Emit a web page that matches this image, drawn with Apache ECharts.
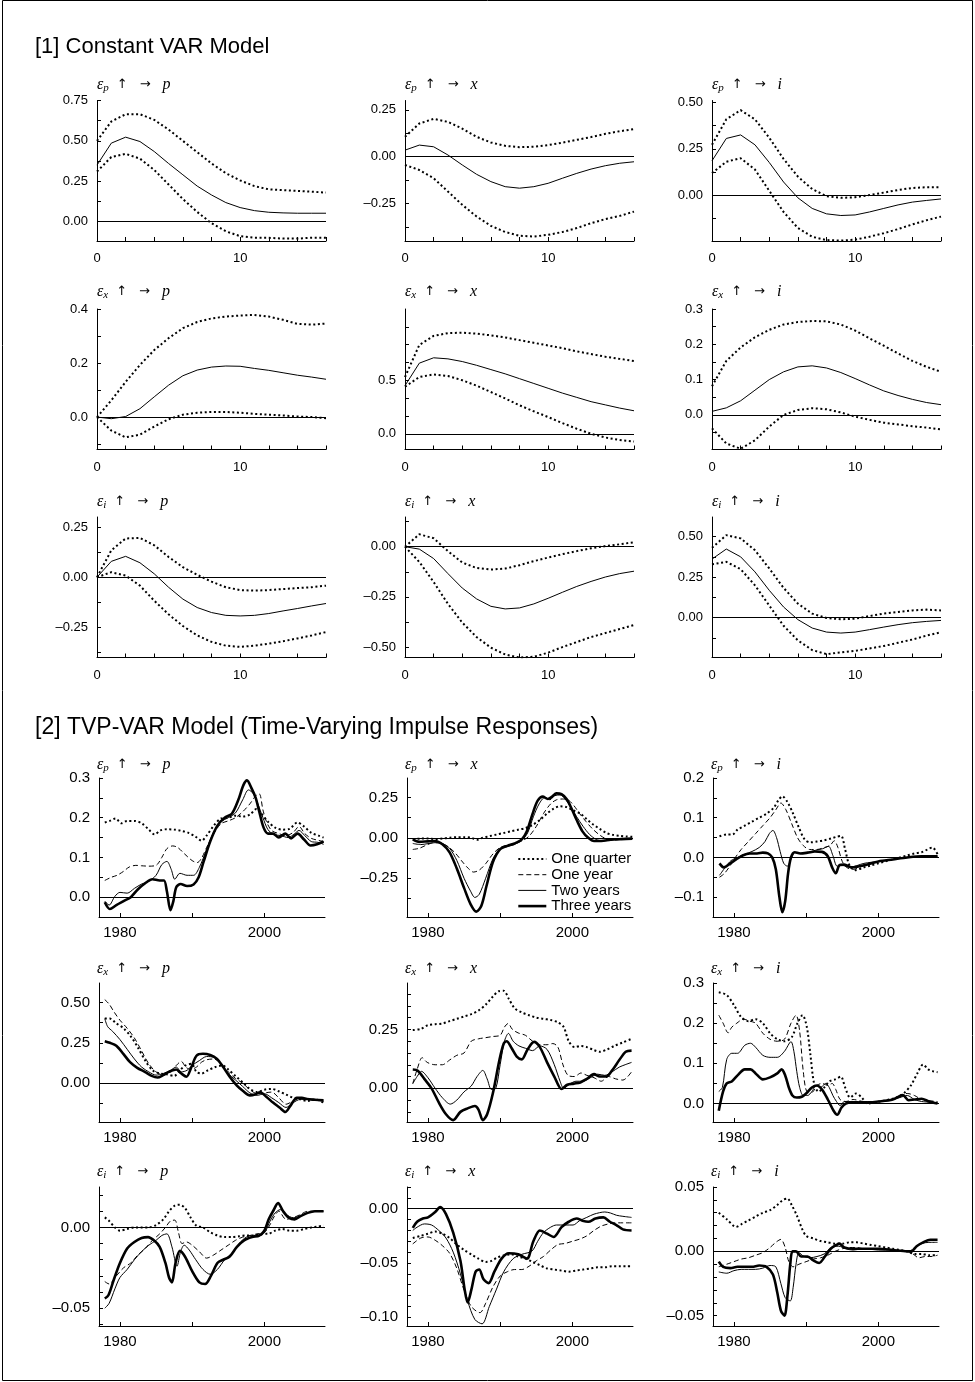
<!DOCTYPE html>
<html><head><meta charset="utf-8">
<script src="https://cdn.jsdelivr.net/npm/echarts@6/dist/echarts.min.js"></script>
<style>html,body{margin:0;padding:0;background:#fff}#chart{width:975px;height:1382px}</style>
</head><body><div id="chart"></div>
<script>
// ---------- DATA: constant VAR (horizons 0..16) ----------
const horizons = [0,1,2,3,4,5,6,7,8,9,10,11,12,13,14,15,16];
const cPP_hi  = [0.50,0.62,0.665,0.665,0.63,0.57,0.50,0.43,0.36,0.30,0.255,0.22,0.20,0.195,0.19,0.185,0.18];
const cPP_mid = [0.35,0.486,0.523,0.496,0.434,0.36,0.29,0.22,0.165,0.118,0.087,0.068,0.058,0.054,0.052,0.052,0.052];
const cPP_lo  = [0.31,0.40,0.42,0.39,0.32,0.23,0.14,0.06,-0.01,-0.06,-0.09,-0.10,-0.10,-0.105,-0.105,-0.10,-0.10];
const cPX_hi  = [0.106,0.177,0.202,0.186,0.15,0.106,0.076,0.058,0.051,0.053,0.062,0.075,0.09,0.105,0.122,0.136,0.147];
const cPX_mid = [0.035,0.062,0.053,0.009,-0.044,-0.094,-0.133,-0.16,-0.168,-0.16,-0.142,-0.115,-0.089,-0.066,-0.048,-0.035,-0.027];
const cPX_lo  = [-0.044,-0.071,-0.115,-0.186,-0.257,-0.319,-0.369,-0.402,-0.422,-0.426,-0.417,-0.402,-0.381,-0.355,-0.333,-0.316,-0.293];
const cPI_hi  = [0.272,0.409,0.458,0.409,0.31,0.196,0.101,0.034,-0.004,-0.013,-0.01,0.002,0.015,0.029,0.04,0.044,0.044];
const cPI_mid = [0.186,0.306,0.325,0.272,0.177,0.072,-0.013,-0.07,-0.099,-0.108,-0.105,-0.089,-0.07,-0.051,-0.036,-0.027,-0.019];
const cPI_lo  = [0.12,0.181,0.2,0.139,0.025,-0.089,-0.175,-0.222,-0.24,-0.243,-0.238,-0.222,-0.203,-0.181,-0.156,-0.133,-0.114];
const cXP_hi  = [0,0.062,0.13,0.193,0.248,0.292,0.329,0.352,0.365,0.372,0.376,0.378,0.372,0.36,0.345,0.342,0.346];
const cXP_mid = [0,-0.006,0.002,0.031,0.075,0.118,0.153,0.174,0.185,0.189,0.188,0.18,0.173,0.164,0.155,0.148,0.14];
const cXP_lo  = [0,-0.05,-0.075,-0.065,-0.035,-0.008,0.009,0.016,0.019,0.019,0.016,0.012,0.009,0.006,0.002,0.0,-0.004];
const cXX_hi  = [0.53,0.83,0.915,0.94,0.945,0.935,0.92,0.9,0.875,0.85,0.825,0.8,0.77,0.745,0.72,0.70,0.68];
const cXX_mid = [0.45,0.66,0.71,0.70,0.675,0.64,0.60,0.56,0.515,0.47,0.425,0.38,0.34,0.30,0.27,0.24,0.215];
const cXX_lo  = [0.44,0.53,0.555,0.54,0.50,0.45,0.39,0.33,0.266,0.21,0.156,0.10,0.047,0.0,-0.035,-0.058,-0.072];
const cXI_hi  = [0.081,0.153,0.191,0.22,0.241,0.256,0.263,0.266,0.265,0.256,0.239,0.217,0.196,0.174,0.153,0.136,0.122];
const cXI_mid = [0.010,0.020,0.040,0.070,0.100,0.122,0.136,0.139,0.133,0.120,0.103,0.085,0.068,0.055,0.044,0.035,0.029];
const cXI_lo  = [-0.038,-0.081,-0.096,-0.072,-0.033,0,0.014,0.019,0.016,0.007,-0.005,-0.014,-0.022,-0.027,-0.032,-0.036,-0.041];
const cIP_hi  = [0,0.134,0.193,0.196,0.159,0.101,0.05,0.012,-0.022,-0.05,-0.064,-0.067,-0.064,-0.059,-0.054,-0.05,-0.042];
const cIP_mid = [0,0.079,0.104,0.072,0.017,-0.05,-0.109,-0.151,-0.176,-0.19,-0.193,-0.19,-0.181,-0.168,-0.156,-0.143,-0.131];
const cIP_lo  = [0,0.025,0.008,-0.042,-0.117,-0.185,-0.243,-0.29,-0.322,-0.341,-0.347,-0.341,-0.331,-0.319,-0.305,-0.29,-0.273];
const cIX_hi  = [0,0.062,0.042,-0.022,-0.079,-0.106,-0.114,-0.109,-0.092,-0.072,-0.054,-0.037,-0.022,-0.008,0.003,0.012,0.022];
const cIX_mid = [0,-0.012,-0.059,-0.134,-0.206,-0.26,-0.297,-0.31,-0.305,-0.285,-0.257,-0.227,-0.198,-0.173,-0.151,-0.134,-0.122];
const cIX_lo  = [0,-0.076,-0.176,-0.285,-0.378,-0.45,-0.503,-0.537,-0.552,-0.548,-0.528,-0.50,-0.475,-0.45,-0.43,-0.41,-0.39];
const cII_hi  = [0.432,0.51,0.49,0.417,0.304,0.184,0.087,0.025,-0.002,-0.01,-0.006,0.01,0.025,0.035,0.045,0.05,0.045];
const cII_mid = [0.362,0.424,0.376,0.283,0.169,0.066,-0.012,-0.064,-0.089,-0.095,-0.089,-0.074,-0.058,-0.043,-0.031,-0.023,-0.017];
const cII_lo  = [0.33,0.345,0.30,0.20,0.075,-0.05,-0.14,-0.20,-0.225,-0.215,-0.205,-0.19,-0.175,-0.155,-0.135,-0.11,-0.09];

// ---------- DATA: TVP-VAR ([year, response]) ----------
const tvpNames = ['One quarter','One year','Two years','Three years'];
const tPP_q  = [[1977.9,0.188],[1978.6,0.192],[1979.4,0.198],[1980.2,0.186],[1981,0.192],[1982,0.192],[1983,0.186],[1984,0.17],[1984.8,0.158],[1985.6,0.168],[1986.5,0.171],[1987.5,0.17],[1988.5,0.167],[1989.5,0.162],[1990.5,0.152],[1991.3,0.142],[1992,0.155],[1993,0.18],[1994,0.198],[1995,0.2],[1996,0.205],[1997,0.203],[1998,0.208],[1998.9,0.222],[1999.6,0.21],[2000.5,0.19],[2001.5,0.175],[2002.5,0.17],[2003.5,0.172],[2004.6,0.188],[2005.5,0.178],[2006.5,0.162],[2007.5,0.155],[2008.2,0.15]];
const tPP_1y = [[1977.9,0.042],[1978.8,0.05],[1979.6,0.055],[1980.5,0.065],[1981.3,0.076],[1982.2,0.08],[1983,0.079],[1984,0.078],[1985,0.08],[1985.8,0.1],[1986.5,0.122],[1987.3,0.129],[1988,0.125],[1989,0.108],[1990,0.092],[1990.7,0.087],[1991.3,0.098],[1992,0.125],[1993,0.16],[1994,0.185],[1995,0.192],[1996,0.2],[1997,0.215],[1998,0.235],[1998.8,0.255],[1999.3,0.26],[1999.8,0.22],[2000.3,0.19],[2001,0.168],[2002,0.16],[2003,0.155],[2004,0.163],[2004.8,0.178],[2005.6,0.16],[2006.5,0.148],[2007.5,0.143],[2008.2,0.14]];
const tPP_2y = [[1977.9,-0.01],[1978.5,-0.02],[1979.3,0.002],[1980,0.012],[1981,0.01],[1982,0.022],[1983,0.033],[1984,0.04],[1985,0.055],[1985.8,0.082],[1986.5,0.09],[1987.1,0.07],[1987.6,0.045],[1988.3,0.06],[1989.3,0.055],[1990.2,0.055],[1991,0.075],[1992,0.12],[1993,0.165],[1994,0.19],[1995,0.2],[1996,0.212],[1997,0.245],[1997.8,0.27],[1998.5,0.26],[1999.1,0.235],[1999.8,0.2],[2000.5,0.17],[2001.3,0.158],[2002.3,0.155],[2003.3,0.15],[2004.2,0.16],[2004.8,0.168],[2005.6,0.155],[2006.5,0.14],[2007.4,0.138],[2008.2,0.133]];
const tPP_3y = [[1977.9,-0.013],[1978.6,-0.03],[1979.5,-0.02],[1980.5,-0.01],[1981.5,0.0],[1982.5,0.02],[1983.5,0.035],[1984.5,0.045],[1985.5,0.042],[1986.1,0.042],[1986.5,0.015],[1987.0,-0.033],[1987.4,-0.01],[1987.8,0.025],[1988.4,0.033],[1989.3,0.028],[1990.2,0.032],[1990.9,0.05],[1991.6,0.09],[1992.5,0.14],[1993.5,0.18],[1994.5,0.2],[1995.5,0.21],[1996.4,0.245],[1997.1,0.282],[1997.6,0.294],[1998.2,0.275],[1998.8,0.25],[1999.3,0.215],[1999.9,0.175],[2000.5,0.16],[2001.2,0.16],[2002,0.15],[2002.9,0.16],[2003.7,0.148],[2004.6,0.16],[2005.5,0.145],[2006.4,0.13],[2007.3,0.133],[2008.2,0.14]];

const tPX_q  = [[1977.9,-0.01],[1979,-0.005],[1980,-0.005],[1981,-0.008],[1982,-0.005],[1983,0.0],[1984,0.004],[1985,0.004],[1986,0.0],[1986.8,-0.012],[1987.6,0.0],[1988.5,0.01],[1989.5,0.02],[1990.5,0.03],[1991.5,0.04],[1992.5,0.05],[1993.5,0.06],[1994.5,0.08],[1995.5,0.11],[1996.5,0.15],[1997.4,0.18],[1998.3,0.195],[1999.2,0.19],[2000.1,0.17],[2001.1,0.15],[2002,0.115],[2002.9,0.082],[2003.8,0.055],[2004.7,0.03],[2005.6,0.018],[2006.6,0.012],[2007.5,0.008],[2008.3,0.006]];
const tPX_1y = [[1977.9,-0.072],[1978.8,-0.065],[1979.8,-0.045],[1980.8,-0.03],[1981.8,-0.035],[1982.8,-0.055],[1983.8,-0.095],[1984.8,-0.15],[1985.6,-0.19],[1986.3,-0.212],[1987.1,-0.2],[1988,-0.16],[1989,-0.1],[1990,-0.06],[1991,-0.045],[1992,-0.035],[1993,-0.02],[1994,0.01],[1995,0.07],[1996,0.15],[1997,0.21],[1997.8,0.235],[1998.6,0.24],[1999.4,0.235],[2000.2,0.2],[2001,0.15],[2001.9,0.1],[2002.8,0.055],[2003.7,0.02],[2004.6,-0.005],[2005.5,-0.015],[2006.8,-0.01],[2008.3,-0.006]];
const tPX_2y = [[1977.9,-0.035],[1979,-0.042],[1980,-0.036],[1981,-0.03],[1982,-0.035],[1983,-0.065],[1984,-0.14],[1985,-0.25],[1985.9,-0.33],[1986.5,-0.369],[1987.1,-0.35],[1988,-0.25],[1989,-0.13],[1990,-0.07],[1991,-0.055],[1992,-0.04],[1993,-0.015],[1993.8,0.03],[1994.6,0.13],[1995.4,0.21],[1996.2,0.25],[1996.9,0.235],[1997.5,0.26],[1998.3,0.265],[1999,0.24],[1999.8,0.19],[2000.6,0.13],[2001.5,0.07],[2002.4,0.02],[2003.3,-0.01],[2004.2,-0.02],[2005.5,-0.012],[2006.8,-0.008],[2008.3,-0.005]];
const tPX_3y = [[1977.9,-0.01],[1978.8,-0.025],[1980,-0.022],[1981,-0.02],[1982,-0.04],[1983,-0.09],[1984,-0.19],[1985,-0.31],[1985.9,-0.41],[1986.7,-0.457],[1987.4,-0.42],[1988.1,-0.3],[1989,-0.15],[1990,-0.07],[1991,-0.05],[1992,-0.035],[1993,-0.01],[1993.7,0.04],[1994.5,0.15],[1995.2,0.23],[1995.9,0.255],[1996.6,0.24],[1997.2,0.255],[1997.8,0.275],[1998.5,0.27],[1999.2,0.24],[1999.9,0.18],[2000.6,0.11],[2001.4,0.04],[2002.2,0.0],[2003,-0.02],[2004,-0.02],[2005.3,-0.012],[2006.8,-0.008],[2008.3,-0.005]];

const tPI_q  = [[1978,0.053],[1979,0.058],[1979.8,0.058],[1980.5,0.07],[1981.5,0.08],[1982.5,0.09],[1983.5,0.1],[1984.5,0.11],[1985.5,0.125],[1986.2,0.145],[1986.7,0.154],[1987.4,0.14],[1988.2,0.11],[1989,0.075],[1989.8,0.045],[1990.6,0.038],[1991.5,0.04],[1992.5,0.043],[1993.5,0.048],[1994.2,0.052],[1994.85,0.054],[1995.4,0.02],[1996,-0.02],[1996.8,-0.032],[1998,-0.025],[1999,-0.02],[2000,-0.015],[2001,-0.01],[2002,-0.005],[2003,0.0],[2004,0.005],[2005,0.01],[2006,0.013],[2006.8,0.02],[2007.5,0.025],[2008.2,0.008]];
const tPI_1y = [[1978,-0.05],[1978.7,-0.04],[1979.5,-0.02],[1980.2,0.0],[1981,0.02],[1982,0.04],[1983,0.06],[1984,0.08],[1985,0.1],[1985.8,0.12],[1986.5,0.137],[1987.2,0.12],[1988,0.085],[1988.8,0.05],[1989.6,0.03],[1990.5,0.02],[1991.5,0.02],[1992.5,0.025],[1993.3,0.03],[1993.9,0.042],[1994.4,0.025],[1995,-0.01],[1995.6,-0.025],[1996.5,-0.03],[1998,-0.02],[2000,-0.01],[2002,-0.005],[2004,0.0],[2006,0.003],[2008.2,0.003]];
const tPI_2y = [[1978,-0.045],[1978.8,-0.025],[1979.6,-0.008],[1980.5,0.0],[1981.5,0.008],[1982.5,0.015],[1983.5,0.025],[1984.3,0.04],[1984.9,0.06],[1985.4,0.068],[1985.9,0.05],[1986.4,0.015],[1986.9,-0.015],[1987.4,-0.022],[1987.9,-0.005],[1988.5,0.013],[1989.3,0.01],[1990.3,0.013],[1991.3,0.018],[1992.3,0.022],[1993.1,0.028],[1993.7,0.005],[1994.3,-0.022],[1995,-0.02],[1996,-0.025],[1998,-0.015],[2000,-0.01],[2002,-0.005],[2004,0.0],[2006,0.003],[2008.2,0.003]];
const tPI_3y = [[1978,-0.015],[1978.6,-0.025],[1979.5,-0.015],[1980.3,-0.005],[1981.2,0.005],[1982.2,0.01],[1983.2,0.01],[1984,0.012],[1984.7,0.01],[1985.3,0.0],[1985.8,-0.03],[1986.3,-0.1],[1986.7,-0.138],[1987.1,-0.11],[1987.5,-0.04],[1987.9,0.0],[1988.4,0.013],[1989.2,0.01],[1990.2,0.012],[1991.2,0.015],[1992.2,0.014],[1993,0.003],[1993.6,-0.025],[1994.1,-0.04],[1994.6,-0.02],[1995.3,-0.018],[1996.3,-0.025],[1998,-0.02],[2000,-0.01],[2002,-0.005],[2004,0.0],[2006,0.003],[2008.2,0.003]];

const tXP_q  = [[1977.9,0.40],[1978.6,0.40],[1979.5,0.37],[1980.5,0.34],[1981.5,0.29],[1982.5,0.22],[1983.5,0.14],[1984.5,0.08],[1985.5,0.06],[1986.5,0.055],[1987.5,0.045],[1988.3,0.08],[1989.1,0.11],[1989.9,0.12],[1990.6,0.07],[1991.3,0.06],[1992.2,0.08],[1993.2,0.1],[1994.2,0.11],[1995,0.085],[1996,0.045],[1997,0.005],[1998,-0.035],[1999,-0.055],[2000,-0.04],[2001,-0.035],[2002,-0.05],[2003,-0.07],[2004,-0.09],[2005,-0.1],[2006,-0.11],[2007,-0.1],[2008.2,-0.12]];
const tXP_1y = [[1977.9,0.517],[1978.5,0.49],[1979.2,0.44],[1980,0.39],[1981,0.34],[1982,0.28],[1983,0.2],[1984,0.12],[1985,0.07],[1986,0.055],[1987,0.07],[1987.8,0.11],[1988.5,0.135],[1989.1,0.1],[1989.8,0.085],[1990.6,0.1],[1991.3,0.13],[1992,0.145],[1993,0.15],[1994,0.12],[1995,0.07],[1996,0.03],[1997,0.0],[1998,-0.04],[1999,-0.065],[2000,-0.06],[2001,-0.055],[2002,-0.09],[2003,-0.13],[2004,-0.11],[2005,-0.095],[2006,-0.1],[2007,-0.105],[2008.2,-0.11]];
const tXP_2y = [[1977.9,0.40],[1978.3,0.35],[1979,0.32],[1980,0.27],[1981,0.21],[1982,0.15],[1983,0.1],[1984,0.07],[1985,0.05],[1986,0.06],[1987,0.08],[1987.8,0.1],[1988.5,0.07],[1989.3,0.08],[1990,0.11],[1991,0.14],[1992,0.165],[1993,0.16],[1994,0.12],[1995,0.06],[1996,0.02],[1997,-0.02],[1998,-0.06],[1999,-0.075],[2000,-0.065],[2001,-0.09],[2002,-0.12],[2003,-0.15],[2004,-0.12],[2005,-0.1],[2006,-0.1],[2007,-0.105],[2008.2,-0.11]];
const tXP_3y = [[1977.9,0.26],[1978.6,0.25],[1979.5,0.232],[1980.5,0.18],[1981.4,0.13],[1982.4,0.095],[1983.5,0.069],[1984.4,0.045],[1985.2,0.035],[1986,0.05],[1986.8,0.07],[1987.8,0.085],[1988.5,0.06],[1989.2,0.04],[1989.9,0.1],[1990.6,0.17],[1991.5,0.182],[1992.5,0.175],[1993.4,0.152],[1994.3,0.1],[1995.2,0.04],[1996.2,-0.015],[1997.1,-0.05],[1998,-0.075],[1998.7,-0.07],[1999.4,-0.056],[2000.3,-0.085],[2001.2,-0.12],[2002.1,-0.15],[2002.9,-0.178],[2003.6,-0.14],[2004.5,-0.09],[2005.2,-0.09],[2005.9,-0.098],[2007,-0.102],[2008.2,-0.105]];

const tXX_q  = [[1977.9,0.247],[1979,0.252],[1980,0.268],[1981,0.272],[1982,0.275],[1983,0.285],[1984,0.295],[1985,0.305],[1986,0.315],[1987,0.33],[1988,0.355],[1989,0.39],[1989.8,0.412],[1990.5,0.414],[1991.2,0.38],[1992,0.34],[1993,0.322],[1994,0.31],[1995,0.3],[1996,0.295],[1997,0.29],[1998,0.28],[1998.8,0.26],[1999.5,0.2],[2000.3,0.175],[2001.2,0.18],[2002,0.175],[2003,0.162],[2003.8,0.155],[2004.8,0.165],[2005.8,0.18],[2007,0.195],[2008.2,0.21]];
const tXX_1y = [[1977.9,0.02],[1978.5,0.08],[1979.2,0.13],[1979.9,0.11],[1981,0.1],[1982,0.1],[1983,0.12],[1984,0.14],[1985,0.15],[1986,0.2],[1987,0.21],[1988,0.215],[1989,0.22],[1990,0.225],[1990.6,0.26],[1991.1,0.275],[1991.7,0.25],[1992.5,0.235],[1993.5,0.225],[1994.5,0.2],[1995.5,0.185],[1996.5,0.185],[1997.3,0.19],[1998,0.175],[1998.7,0.1],[1999.4,0.055],[2000.3,0.05],[2001.2,0.065],[2002,0.055],[2003,0.045],[2004,0.03],[2005,0.05],[2006,0.04],[2007,0.035],[2008.2,0.07]];
const tXX_2y = [[1977.9,0.02],[1978.5,0.05],[1979.1,0.072],[1980,0.045],[1981,0.0],[1982,-0.04],[1983.1,-0.067],[1984,-0.05],[1985,-0.015],[1986,0.01],[1986.8,0.05],[1987.6,0.076],[1988.2,0.04],[1988.8,-0.005],[1989.4,0.0],[1990,0.1],[1990.6,0.2],[1991.15,0.233],[1991.8,0.2],[1992.6,0.18],[1993.5,0.17],[1994.5,0.16],[1995.5,0.18],[1996.5,0.165],[1997.5,0.1],[1998.3,0.03],[1998.8,0.0],[1999.5,0.015],[2000.5,0.03],[2001.5,0.03],[2002.5,0.045],[2003.5,0.06],[2004.5,0.055],[2005.5,0.07],[2006.5,0.09],[2007.3,0.1],[2008.2,0.11]];
const tXX_3y = [[1977.9,0.08],[1978.6,0.075],[1979.5,0.04],[1980.5,0.0],[1981.5,-0.06],[1982.5,-0.11],[1983.5,-0.135],[1984.5,-0.1],[1985.5,-0.085],[1986.5,-0.075],[1987,-0.09],[1987.6,-0.135],[1988.2,-0.11],[1989,-0.02],[1989.9,0.12],[1990.5,0.19],[1990.9,0.2],[1991.6,0.17],[1992.3,0.135],[1993,0.123],[1993.8,0.165],[1994.7,0.197],[1995.5,0.175],[1996.5,0.11],[1997.5,0.05],[1998.5,-0.003],[1999.3,0.015],[2000.2,0.02],[2001.1,0.025],[2002,0.04],[2003,0.06],[2003.8,0.05],[2004.7,0.05],[2005.6,0.08],[2006.5,0.12],[2007.4,0.155],[2008.2,0.16]];

const tXI_q  = [[1977.9,0.277],[1979,0.27],[1980,0.245],[1981,0.215],[1982,0.205],[1983,0.21],[1984,0.2],[1985,0.175],[1986,0.16],[1987,0.155],[1988,0.165],[1988.8,0.2],[1989.5,0.22],[1990.1,0.19],[1990.6,0.12],[1991.1,0.05],[1991.7,0.03],[1992.5,0.04],[1993.2,0.055],[1994,0.06],[1994.8,0.067],[1995.4,0.04],[1996.1,0.015],[1996.9,0.025],[1997.7,0.015],[1998.5,0.0],[1999.5,0.003],[2000.5,0.006],[2001.5,0.01],[2002.5,0.015],[2003.5,0.025],[2004.5,0.045],[2005.4,0.075],[2006.2,0.097],[2006.9,0.085],[2007.6,0.08],[2008.2,0.078]];
const tXI_1y = [[1977.9,0.22],[1978.5,0.2],[1979.2,0.176],[1979.7,0.19],[1980.4,0.2],[1981.3,0.21],[1982.2,0.205],[1983,0.2],[1984,0.175],[1985,0.16],[1986,0.155],[1987,0.16],[1987.9,0.2],[1988.6,0.22],[1989.1,0.18],[1989.6,0.08],[1990.1,0.03],[1990.8,0.028],[1991.5,0.045],[1992.2,0.05],[1993,0.045],[1993.6,0.05],[1994.1,0.035],[1994.7,0.01],[1995.5,0.005],[1996.5,0.01],[1998,0.005],[2000,0.005],[2002,0.01],[2003,0.02],[2004,0.025],[2005,0.02],[2006,0.01],[2008.2,0.005]];
const tXI_2y = [[1977.9,0.03],[1978.4,0.04],[1979,0.11],[1979.7,0.125],[1980.5,0.125],[1981.5,0.145],[1982.3,0.15],[1983,0.14],[1984,0.12],[1985,0.115],[1986,0.115],[1987,0.13],[1987.9,0.154],[1988.3,0.13],[1988.7,0.08],[1989.1,0.04],[1989.6,0.02],[1990.2,0.02],[1990.8,0.03],[1991.4,0.045],[1992,0.04],[1992.7,0.05],[1993.2,0.04],[1993.7,0.02],[1994.2,0.005],[1994.7,-0.005],[1995.3,0.005],[1996.5,0.005],[1998,0.005],[2000,0.005],[2002,0.01],[2003,0.015],[2004,0.02],[2005,0.01],[2006,0.005],[2008.2,0.002]];
const tXI_3y = [[1977.9,-0.018],[1978.5,0.03],[1979,0.05],[1979.7,0.055],[1980.5,0.07],[1981.5,0.085],[1982.3,0.085],[1983,0.075],[1984,0.06],[1985,0.065],[1986,0.075],[1986.6,0.085],[1987.1,0.07],[1987.6,0.04],[1988.1,0.02],[1988.7,0.015],[1989.4,0.017],[1990,0.025],[1990.8,0.04],[1991.5,0.045],[1992.2,0.035],[1993,0.01],[1993.8,-0.018],[1994.3,-0.028],[1994.9,-0.01],[1995.5,0.0],[1996.5,0.003],[1998,0.002],[2000,0.005],[2002,0.01],[2003.4,0.021],[2004.2,0.008],[2005,0.01],[2006,0.012],[2007,0.005],[2008.2,0.0]];

const tIP_q  = [[1977.9,0.0062],[1978.5,0.004],[1979.3,0.0],[1980,-0.002],[1981,-0.001],[1982,0.0],[1983,0.0],[1984,0.0],[1985,0.0015],[1986,0.005],[1986.8,0.01],[1987.6,0.0135],[1988.3,0.014],[1989,0.012],[1989.8,0.006],[1990.6,0.001],[1991.5,0.0],[1992.5,-0.003],[1993.5,-0.005],[1994.5,-0.006],[1995.5,-0.006],[1996.5,-0.0055],[1997.5,-0.005],[1998.5,-0.005],[1999.5,-0.004],[2000.5,-0.004],[2001.5,-0.002],[2002.5,-0.001],[2003.5,-0.002],[2004.5,-0.002],[2005.5,-0.001],[2006.5,0.0],[2007.3,0.0005],[2008.2,0.001]];
const tIP_1y = [[1977.9,-0.0335],[1978.5,-0.035],[1979.5,-0.03],[1980.5,-0.025],[1981.5,-0.022],[1982.5,-0.017],[1983.5,-0.013],[1984.5,-0.008],[1985.5,-0.004],[1986.3,0.0],[1987,0.004],[1987.6,0.0045],[1988.1,-0.003],[1988.6,-0.01],[1989.2,-0.009],[1990,-0.011],[1991,-0.015],[1992,-0.019],[1993,-0.017],[1994,-0.014],[1995,-0.011],[1996,-0.008],[1997,-0.006],[1998,-0.005],[1999,-0.004],[2000,-0.003],[2000.7,0.001],[2001.4,0.007],[2002,0.01],[2003,0.005],[2004,0.006],[2005,0.008],[2006,0.01],[2007,0.01],[2008.2,0.01]];
const tIP_2y = [[1977.9,-0.05],[1978.5,-0.047],[1979.3,-0.038],[1980,-0.031],[1981,-0.026],[1982,-0.02],[1983,-0.015],[1984,-0.011],[1985,-0.008],[1985.8,-0.005],[1986.5,-0.004],[1987.2,-0.012],[1987.9,-0.024],[1988.4,-0.015],[1988.9,-0.011],[1989.6,-0.014],[1990.5,-0.02],[1991.5,-0.026],[1992.5,-0.029],[1993.5,-0.026],[1994.5,-0.02],[1995.5,-0.016],[1996.5,-0.01],[1997.5,-0.006],[1998.5,-0.005],[1999.5,-0.005],[2000.2,-0.002],[2000.8,0.004],[2001.5,0.009],[2002.2,0.011],[2003,0.008],[2004,0.006],[2005,0.007],[2006,0.009],[2007,0.01],[2008.2,0.01]];
const tIP_3y = [[1977.9,-0.044],[1978.4,-0.042],[1979.1,-0.033],[1980,-0.022],[1981,-0.013],[1982,-0.009],[1983,-0.0065],[1983.9,-0.006],[1984.7,-0.008],[1985.5,-0.012],[1986.3,-0.022],[1986.8,-0.031],[1987.2,-0.034],[1987.7,-0.022],[1988.3,-0.0145],[1989,-0.018],[1990,-0.027],[1991,-0.034],[1991.8,-0.035],[1992.6,-0.03],[1993.5,-0.022],[1994.3,-0.02],[1995.2,-0.018],[1996.2,-0.012],[1997.2,-0.008],[1998.3,-0.006],[1999.3,-0.005],[2000,-0.002],[2000.6,0.005],[2001.2,0.01],[2001.9,0.015],[2002.6,0.01],[2003.4,0.006],[2004.2,0.005],[2005,0.007],[2006,0.009],[2007,0.01],[2008.2,0.01]];

const tIX_q  = [[1977.9,-0.027],[1979,-0.025],[1980,-0.023],[1981,-0.021],[1982,-0.023],[1983,-0.027],[1984,-0.033],[1985,-0.038],[1986,-0.042],[1987,-0.046],[1988,-0.049],[1988.8,-0.048],[1989.6,-0.045],[1990.5,-0.043],[1991.5,-0.042],[1992.5,-0.044],[1993.5,-0.046],[1994.5,-0.049],[1995.5,-0.052],[1996.5,-0.055],[1997.5,-0.056],[1998.5,-0.057],[1999.5,-0.058],[2000.5,-0.057],[2001.5,-0.056],[2002.5,-0.055],[2003.5,-0.054],[2004.5,-0.054],[2005.5,-0.053],[2006.5,-0.053],[2007.5,-0.053],[2008.2,-0.053]];
const tIX_1y = [[1977.9,-0.0324],[1979,-0.027],[1980,-0.026],[1981,-0.029],[1982,-0.034],[1983,-0.041],[1984,-0.055],[1985,-0.075],[1986,-0.09],[1987.2,-0.0957],[1988,-0.087],[1989,-0.072],[1990,-0.062],[1991,-0.058],[1992,-0.056],[1993,-0.056],[1994,-0.053],[1995,-0.048],[1996,-0.044],[1997,-0.038],[1998,-0.033],[1999,-0.032],[2000,-0.03],[2001,-0.028],[2002,-0.025],[2003,-0.02],[2004,-0.016],[2005,-0.014],[2006,-0.013],[2007,-0.013],[2008.2,-0.013]];
const tIX_2y = [[1977.9,-0.02],[1978.5,-0.017],[1979.5,-0.014],[1980.5,-0.015],[1981.5,-0.02],[1982.5,-0.027],[1983.5,-0.04],[1984.5,-0.06],[1985.5,-0.085],[1986.5,-0.102],[1987.5,-0.106],[1988.5,-0.09],[1989.5,-0.074],[1990.5,-0.058],[1991.8,-0.046],[1993,-0.042],[1994.4,-0.039],[1995.2,-0.03],[1996,-0.022],[1997,-0.017],[1997.8,-0.015],[1999,-0.015],[2000.1,-0.015],[2001,-0.011],[2002,-0.008],[2003,-0.005],[2004.5,-0.003],[2005.3,-0.004],[2006.1,-0.006],[2007,-0.007],[2008.2,-0.008]];
const tIX_3y = [[1977.9,-0.0176],[1978.5,-0.012],[1979.3,-0.009],[1980,-0.008],[1981,-0.003],[1981.7,0.0015],[1982.5,-0.005],[1983.5,-0.022],[1984.5,-0.048],[1985.1,-0.075],[1985.5,-0.0864],[1986,-0.075],[1986.6,-0.058],[1987.1,-0.056],[1987.7,-0.065],[1988.4,-0.0685],[1989.2,-0.058],[1990.2,-0.046],[1991.2,-0.041],[1992.5,-0.042],[1993.7,-0.046],[1994.6,-0.03],[1995.5,-0.02],[1996.5,-0.023],[1997.4,-0.026],[1998.5,-0.017],[1999.5,-0.012],[2000.6,-0.009],[2001.4,-0.011],[2002.2,-0.012],[2003.2,-0.009],[2004.3,-0.008],[2005.2,-0.012],[2006.1,-0.015],[2007,-0.019],[2008.2,-0.02]];

const tII_q  = [[1977.9,0.03],[1979,0.025],[1980.3,0.019],[1981,0.021],[1982,0.024],[1983,0.027],[1984,0.03],[1985,0.032],[1986,0.036],[1986.8,0.04],[1987.4,0.041],[1988,0.036],[1988.7,0.028],[1989.4,0.018],[1990,0.012],[1991,0.01],[1992,0.008],[1993,0.007],[1994,0.006],[1995,0.006],[1996,0.007],[1997,0.007],[1998,0.006],[1999,0.005],[2000,0.004],[2001,0.003],[2002,0.002],[2003,0.001],[2004,0.0],[2005,-0.002],[2006,-0.002],[2007,-0.003],[2008.2,-0.003]];
const tII_1y = [[1977.9,-0.012],[1979,-0.01],[1980,-0.008],[1981,-0.006],[1982,-0.005],[1983,-0.003],[1984,-0.001],[1985,0.003],[1985.8,0.007],[1986.5,0.0093],[1987.1,0.003],[1987.6,-0.008],[1988.2,-0.012],[1989,-0.01],[1990,-0.008],[1991,-0.006],[1992,-0.005],[1993,-0.003],[1994,0.0],[1995,0.002],[1996,0.003],[1997,0.003],[1998,0.002],[2000,0.002],[2002,0.001],[2004,0.0],[2004.8,-0.002],[2005.6,-0.005],[2006.5,-0.004],[2007.3,-0.004],[2008.2,-0.003]];
const tII_2y = [[1977.9,-0.016],[1979,-0.017],[1980,-0.015],[1981,-0.014],[1982,-0.014],[1983,-0.014],[1984,-0.013],[1985,-0.011],[1985.8,-0.012],[1986.5,-0.025],[1987.1,-0.036],[1987.8,-0.0385],[1988.2,-0.028],[1988.6,-0.01],[1989,-0.001],[1989.7,-0.004],[1990.5,-0.005],[1991.5,-0.004],[1992.5,-0.002],[1993.5,0.003],[1994.5,0.004],[1995.5,0.002],[1996.5,0.001],[1998,0.002],[2000,0.001],[2002,0.001],[2003.5,0.0],[2004.3,0.0],[2005,0.003],[2006,0.006],[2007,0.007],[2008.2,0.007]];
const tII_3y = [[1977.9,-0.008],[1978.5,-0.012],[1979.5,-0.013],[1980.5,-0.012],[1981.5,-0.012],[1982.5,-0.012],[1983.5,-0.011],[1984.5,-0.012],[1985.4,-0.018],[1986,-0.032],[1986.5,-0.046],[1987,-0.05],[1987.4,-0.035],[1987.8,-0.01],[1988.1,0.0],[1988.6,0.0],[1989.3,-0.004],[1990.2,-0.004],[1991,-0.007],[1991.8,-0.009],[1992.6,-0.004],[1993.4,0.002],[1994.2,0.005],[1994.6,0.006],[1995.3,0.003],[1996.5,0.002],[1998,0.002],[2000,0.002],[2002,0.001],[2004,0.0],[2004.6,0.0],[2005.3,0.004],[2006.2,0.007],[2007.2,0.009],[2008.2,0.009]];

// ---------- axis tick / label values ----------
const shockVars = ['p','x','i'];
const responseVars = ['p','x','i'];
const horizonTicks = [0,2,4,6,8,10,12,14,16];
const horizonLabels = [0,10];
const yearTicks = [1980,1990,2000];
const yearLabels = [1980,2000];
// [min, max, tick step, labels, decimals] per panel (row-major)
const constY = [
  [-0.12,0.75,0.125,[0,0.25,0.5,0.75],2], [-0.45,0.30,0.125,[-0.25,0,0.25],2], [-0.245,0.51,0.125,[0,0.25,0.5],2],
  [-0.12,0.40,0.1,[0,0.2,0.4],1], [-0.147,1.166,0.5/3,[0,0.5],1], [-0.098,0.30,0.05,[0,0.1,0.2,0.3],1],
  [-0.40,0.30,0.125,[-0.25,0,0.25],2], [-0.552,0.148,0.125,[-0.5,-0.25,0],2], [-0.246,0.622,0.125,[0,0.25,0.5],2]
];
const tvpY = [
  [-0.05,0.30,0.05,[0,0.1,0.2,0.3],1], [-0.49,0.37,0.125,[-0.25,0,0.25],2], [-0.15,0.20,0.05,[-0.1,0,0.1,0.2],1],
  [-0.24,0.62,0.125,[0,0.25,0.5],2], [-0.143,0.447,0.05,[0,0.25],2], [-0.046,0.30,0.05,[0,0.1,0.2,0.3],1],
  [-0.061,0.025,0.01,[-0.05,0],2], [-0.108,0.02,0.01,[-0.1,-0.05,0],2], [-0.058,0.05,0.01,[-0.05,0,0.05],2]
];
const constSets = [
  [cPP_lo,cPP_mid,cPP_hi],[cPX_lo,cPX_mid,cPX_hi],[cPI_lo,cPI_mid,cPI_hi],
  [cXP_lo,cXP_mid,cXP_hi],[cXX_lo,cXX_mid,cXX_hi],[cXI_lo,cXI_mid,cXI_hi],
  [cIP_lo,cIP_mid,cIP_hi],[cIX_lo,cIX_mid,cIX_hi],[cII_lo,cII_mid,cII_hi]
];
const tvpSets = [
  [tPP_q,tPP_1y,tPP_2y,tPP_3y],[tPX_q,tPX_1y,tPX_2y,tPX_3y],[tPI_q,tPI_1y,tPI_2y,tPI_3y],
  [tXP_q,tXP_1y,tXP_2y,tXP_3y],[tXX_q,tXX_1y,tXX_2y,tXX_3y],[tXI_q,tXI_1y,tXI_2y,tXI_3y],
  [tIP_q,tIP_1y,tIP_2y,tIP_3y],[tIX_q,tIX_1y,tIX_2y,tIX_3y],[tII_q,tII_1y,tII_2y,tII_3y]
];

// ---------- layout & styles ----------
const SANS = "'Liberation Sans', Arial, Helvetica, sans-serif";
const SERIF = "'Liberation Serif', 'DejaVu Serif', serif";
const C_LEFT=[97,405,712], C_W=229, C_TOP=[100.5,309,517], C_H=140.5, C_TY=[85,292,502];
const T_LEFT=[99,407,713], T_W=226, T_TOP=[778,983,1187], T_H=139, T_TY=[765,969,1172];
const DOT = {color:'#000', width:2, type:[2,2.6]};
const tvpStyles = [DOT, {color:'#000',width:1,type:[5,3]}, {color:'#000',width:1,type:'solid'}, {color:'#000',width:2.6,type:'solid'}];

function stepValues(min,max,step){const a=[];for(let k=Math.ceil(min/step-1e-9);k<=Math.floor(max/step+1e-9);k++)a.push(+(k*step).toFixed(6));return a;}
function fmt(v,dec){v=Math.round(v*1e6)/1e6;const s=Math.abs(v).toFixed(dec);return (v<0?'\u2013':'')+s;}

const option = {animation:false, backgroundColor:'#fff', textStyle:{fontFamily:SANS},
  grid:[], xAxis:[], yAxis:[], series:[], title:[],
  graphic:[{type:'rect', shape:{x:2.5,y:0.5,width:970,height:1380}, style:{fill:'none',stroke:'#000',lineWidth:1}, silent:true}],
  legend:{data:tvpNames.map((n,j)=>({name:n, lineStyle:{width:tvpStyles[j].width, type:tvpStyles[j].type, color:'#000'}})),
    orient:'vertical', left:517, top:851.5, itemWidth:28, itemHeight:10, itemGap:0.7, padding:0,
    selectedMode:false, itemStyle:{opacity:0, color:'rgba(0,0,0,0)', borderWidth:0},
    lineStyle:{width:'inherit', type:'inherit', color:'inherit'},
    textStyle:{fontSize:15, lineHeight:10, color:'#000', fontFamily:SANS}}
};

const rich = {
  e:{fontFamily:SERIF,fontStyle:'italic',fontWeight:'normal',fontSize:16,lineHeight:18,verticalAlign:'middle',color:'#000'},
  s:{fontFamily:SERIF,fontStyle:'italic',fontWeight:'normal',fontSize:11,lineHeight:12,verticalAlign:'bottom',color:'#000'},
  a:{fontFamily:"'DejaVu Sans', sans-serif",fontWeight:'normal',fontSize:13,lineHeight:18,verticalAlign:'middle',padding:[0,0,0,8],color:'#000'},
  b:{fontFamily:"'DejaVu Sans', sans-serif",fontWeight:'normal',fontSize:13,lineHeight:18,verticalAlign:'middle',padding:[0,0,0,12],color:'#000'},
  r:{fontFamily:SERIF,fontStyle:'italic',fontWeight:'normal',fontSize:16,lineHeight:18,verticalAlign:'middle',padding:[0,0,0,12],color:'#000'}
};
function panelTitle(left, cy, shock, resp){
  option.title.push({left:left, top:cy-9, padding:0, text:`{e|ε}{s|${shock}}{a|↑}{b|→}{r|${resp}}`,
    textStyle:{fontWeight:'normal', rich:rich}});
}
function addAxes(gi, x, y, fs, xMargin){
  option.xAxis.push({gridIndex:gi, type:'value', min:x.min, max:x.max,
    axisLine:{show:true,onZero:false,lineStyle:{color:'#000',width:1}},
    axisTick:{show:true,inside:true,length:4,customValues:x.ticks,lineStyle:{color:'#000',width:1}},
    axisLabel:{show:true,customValues:x.labels,formatter:v=>String(Math.round(v)),color:'#000',fontSize:fs,margin:xMargin,fontFamily:SANS},
    splitLine:{show:false}});
  option.yAxis.push({gridIndex:gi, type:'value', min:y[0], max:y[1],
    axisLine:{show:true,onZero:false,lineStyle:{color:'#000',width:1}},
    axisTick:{show:true,inside:true,length:4,customValues:stepValues(y[0],y[1],y[2]),lineStyle:{color:'#000',width:1}},
    axisLabel:{show:true,customValues:y[3],formatter:v=>fmt(v,y[4]),color:'#000',fontSize:fs,margin:9,fontFamily:SANS},
    splitLine:{show:false}});
}
const zeroLine = {silent:true, symbol:'none', label:{show:false}, lineStyle:{color:'#000',width:1,type:'solid'}, data:[{yAxis:0}], animation:false};

option.title.push({left:35, top:34, padding:0, text:'[1] Constant VAR Model', textStyle:{fontSize:22, fontWeight:'normal', color:'#000', fontFamily:SANS, lineHeight:26}});
option.title.push({left:35, top:715, padding:0, text:'[2] TVP-VAR Model (Time-Varying Impulse Responses)', textStyle:{fontSize:23, fontWeight:'normal', color:'#000', fontFamily:SANS, lineHeight:26}});

// constant VAR panels
for (let r=0;r<3;r++) for (let c=0;c<3;c++){
  const k=r*3+c, gi=option.grid.length;
  option.grid.push({left:C_LEFT[c], top:C_TOP[r], width:C_W, height:C_H, containLabel:false});
  addAxes(gi, {min:0,max:16,ticks:horizonTicks,labels:horizonLabels}, constY[k], 13, 11);
  panelTitle(C_LEFT[c], C_TY[r], shockVars[r], responseVars[c]);
  const [lo,mid,hi] = constSets[k];
  [[lo,DOT],[hi,DOT],[mid,{color:'#000',width:1,type:'solid'}]].forEach(([arr,ls],j)=>{
    const s={type:'line', xAxisIndex:gi, yAxisIndex:gi, symbol:'none', silent:true, animation:false,
      data:horizons.map((h,i)=>[h,arr[i]]), lineStyle:ls, z:3};
    if (j===2) s.markLine = zeroLine;
    option.series.push(s);
  });
}
// TVP-VAR panels
for (let r=0;r<3;r++) for (let c=0;c<3;c++){
  const k=r*3+c, gi=option.grid.length;
  option.grid.push({left:T_LEFT[c], top:T_TOP[r], width:T_W, height:T_H, containLabel:false});
  addAxes(gi, {min:1977.1,max:2008.4,ticks:yearTicks,labels:yearLabels}, tvpY[k], 15, 8);
  panelTitle(T_LEFT[c]-2, T_TY[r], shockVars[r], responseVars[c]);
  tvpSets[k].forEach((arr,j)=>{
    const s={type:'line', name:tvpNames[j], xAxisIndex:gi, yAxisIndex:gi, symbol:'none', silent:true, animation:false,
      smooth:0.3, data:arr, lineStyle:tvpStyles[j], itemStyle:{color:'#000'}, z:3};
    if (j===0) s.markLine = zeroLine;
    option.series.push(s);
  });
}

const chart = echarts.init(document.getElementById('chart'), null, {renderer:'canvas'});
chart.setOption(option);
</script></body></html>
